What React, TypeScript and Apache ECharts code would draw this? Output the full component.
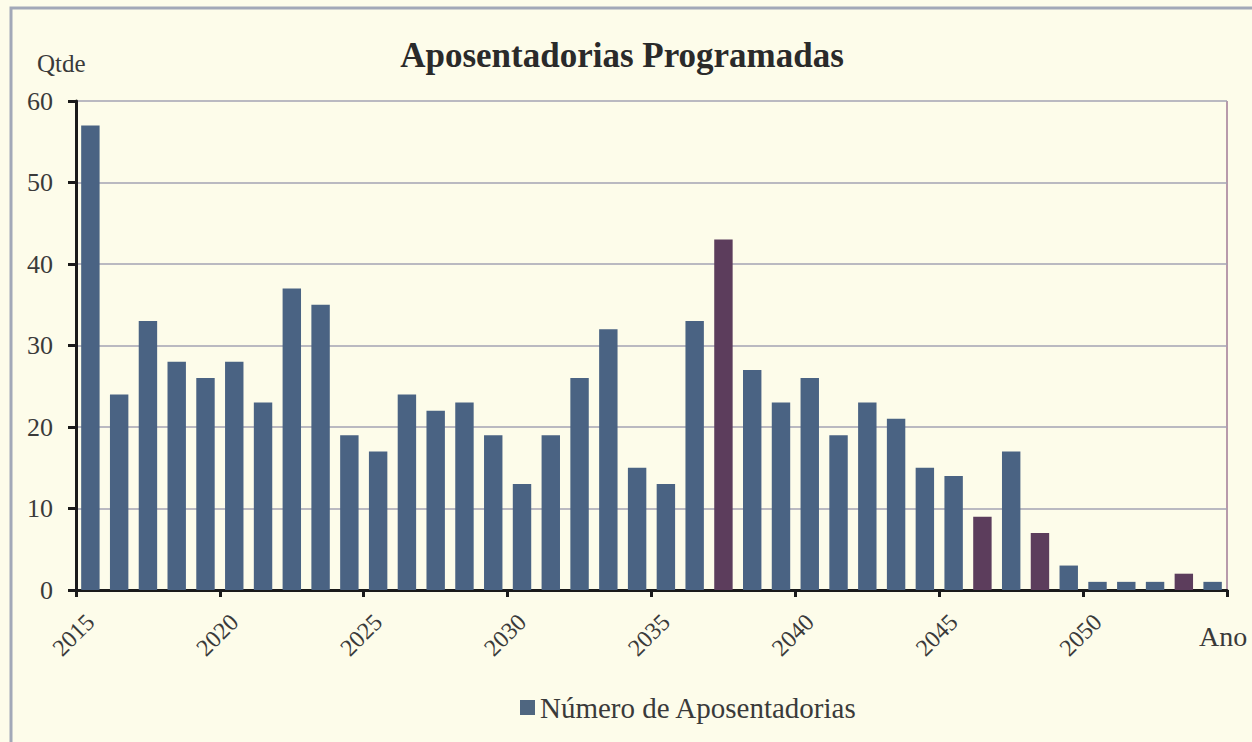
import React, { useEffect, useRef } from "react";
import * as echarts from "echarts";

const years: string[] = [
  "2015","2016","2017","2018","2019","2020","2021","2022","2023","2024",
  "2025","2026","2027","2028","2029","2030","2031","2032","2033","2034",
  "2035","2036","2037","2038","2039","2040","2041","2042","2043","2044",
  "2045","2046","2047","2048","2049","2050","2051","2052","2053","2054",
];
const aposentadorias: number[] = [
  57, 24, 33, 28, 26, 28, 23, 37, 35, 19,
  17, 24, 22, 23, 19, 13, 19, 26, 32, 15,
  13, 33, 43, 27, 23, 26, 19, 23, 21, 15,
  14, 9, 17, 7, 3, 1, 1, 1, 2, 1,
];
const purpleTintYears: string[] = ["2037", "2046", "2048", "2053"];
const yTicks = { min: 0, max: 60, interval: 10 };

const TITLE = "Aposentadorias Programadas";
const SERIES_NAME = "Número de Aposentadorias";
const SERIF = "'Liberation Serif', 'Times New Roman', serif";
const BLUE = "#4a6383";
const PURPLE = "#5c3d5c";

export default function App() {
  const ref = useRef<HTMLDivElement>(null);
  useEffect(() => {
    document.body.style.margin = "0";
    document.body.style.background = "#fdfcea";
    const chart = echarts.init(ref.current!, null, { renderer: "svg" });
    chart.setOption({
      animation: false,
      backgroundColor: "#fdfcea",
      title: {
        text: TITLE,
        left: 617,
        textAlign: "center",
        top: 33,
        textStyle: { fontFamily: SERIF, fontSize: 35, fontWeight: "bold", color: "#2a2a2a" },
      },
      legend: {
        left: 515,
        top: 688,
        icon: "rect",
        itemWidth: 15,
        itemHeight: 15,
        itemGap: 4,
        textStyle: { fontFamily: SERIF, fontSize: 29, color: "#3a3a3a" },
        data: [{ name: SERIES_NAME, itemStyle: { color: "#4f6680" } }],
      },
      grid: { left: 76, right: 25, top: 101, bottom: 152, containLabel: false },
      xAxis: {
        type: "category",
        data: years,
        boundaryGap: true,
        axisLine: { show: true, lineStyle: { color: "#1a1a1a", width: 3 } },
        axisTick: { show: true, interval: 4, length: 7, lineStyle: { color: "#1a1a1a", width: 3 } },
        axisLabel: {
          interval: 4,
          rotate: 45,
          margin: 28,
          fontFamily: SERIF,
          fontSize: 24,
          color: "#3a3a3a",
        },
        splitLine: { show: false },
      },
      yAxis: {
        type: "value",
        min: yTicks.min,
        max: yTicks.max,
        interval: yTicks.interval,
        axisLine: { show: true, lineStyle: { color: "#1a1a1a", width: 3 } },
        axisTick: { show: true, length: 8, lineStyle: { color: "#1a1a1a", width: 3 } },
        axisLabel: { margin: 23, fontFamily: SERIF, fontSize: 26, color: "#3a3a3a" },
        splitLine: { show: true, lineStyle: { color: "#a3a3b3", width: 1.5 } },
      },
      series: [
        {
          name: SERIES_NAME,
          type: "bar",
          barCategoryGap: "36%",
          data: aposentadorias.map((v, i) => ({
            value: v,
            itemStyle: { color: purpleTintYears.includes(years[i]) ? PURPLE : BLUE },
          })),
        },
      ],
      graphic: [
        {
          type: "rect",
          shape: { x: 11, y: 8, width: 1260, height: 760 },
          style: { fill: "none", stroke: "#a2a8b8", lineWidth: 3 },
          silent: true,
        },
        {
          type: "line",
          shape: { x1: 1227, y1: 101, x2: 1227, y2: 590 },
          style: { stroke: "#a07a96", lineWidth: 1.5 },
          silent: true,
        },
        {
          type: "text",
          left: 37,
          top: 51,
          style: { text: "Qtde", fontFamily: SERIF, fontSize: 25, fill: "#3a3a3a" },
        },
        {
          type: "text",
          left: 1199,
          top: 622,
          style: { text: "Ano", fontFamily: SERIF, fontSize: 28, fill: "#3a3a3a" },
        },
      ],
    });
    return () => chart.dispose();
  }, []);
  return <div ref={ref} style={{ width: 1252, height: 742 }} />;
}
